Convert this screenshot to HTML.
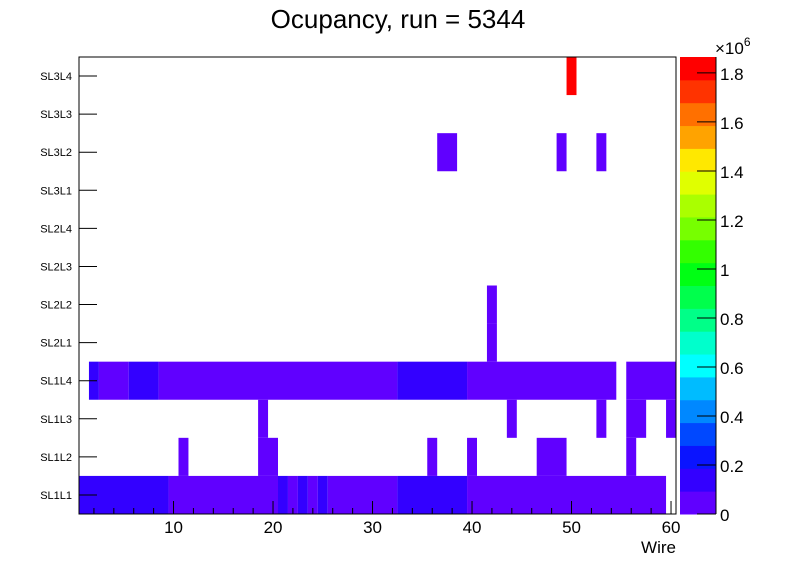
<!DOCTYPE html>
<html><head><meta charset="utf-8"><style>
body{margin:0;background:#fff;}
svg{display:block;font-family:"Liberation Sans",sans-serif;}
</style></head><body>
<svg id="chart" width="796" height="572" xmlns="http://www.w3.org/2000/svg">
<text x="398" y="28" font-size="26" text-anchor="middle">Ocupancy, run = 5344</text>
<text x="676" y="553" font-size="17" text-anchor="end">Wire</text>
<g id="cells"></g><g id="axes"></g><g id="palette"></g>
</svg>
<script>
const rowLabels = ["SL1L1","SL1L2","SL1L3","SL1L4","SL2L1","SL2L2","SL2L3","SL2L4","SL3L1","SL3L2","SL3L3","SL3L4"];
const xTicks = [10,20,30,40,50,60];
const zTicks = [0,0.2,0.4,0.6,0.8,1,1.2,1.4,1.6,1.8];
// cells: [wireStart, wireEnd, rowIndex, value(×1e6)]
const cellRuns = [
 [1,9,0,0.15],[10,20,0,0.05],[21,21,0,0.15],[22,22,0,0.05],[23,23,0,0.15],[24,24,0,0.05],[25,25,0,0.15],[26,32,0,0.05],[33,39,0,0.15],[40,59,0,0.05],
 [11,11,1,0.05],[19,20,1,0.05],[36,36,1,0.05],[40,40,1,0.05],[47,49,1,0.05],[56,56,1,0.05],
 [19,19,2,0.05],[44,44,2,0.05],[53,53,2,0.05],[56,57,2,0.05],[60,60,2,0.05],
 [2,2,3,0.15],[3,5,3,0.05],[6,8,3,0.15],[9,32,3,0.05],[33,39,3,0.15],[40,54,3,0.05],[56,60,3,0.05],
 [42,42,4,0.05],[42,42,5,0.05],
 [37,38,9,0.05],[49,49,9,0.05],[53,53,9,0.05],
 [50,50,11,1.85]
];
const palette = ["#6000ff","#3300ff","#0a14ff","#0048ff","#0088ff","#00bcff","#00ffff","#00ffcc","#00ff88","#00ff4c","#00ff14","#33ff00","#77ff00","#aaff00","#e0ff00","#ffe800","#ffa300","#ff7000","#ff3300","#ff0000"];
const X0=79,X1=676,Y0=57,Y1=514,ZMAX=1.865;
const NS="http://www.w3.org/2000/svg";
const sx=w=>X0+(w-0.5)*(X1-X0)/60;
const sy=r=>Y1-r*(Y1-Y0)/rowLabels.length;
const sz=v=>Y1-v/ZMAX*(Y1-Y0);
function mk(t,a,p){const e=document.createElementNS(NS,t);for(const k in a)e.setAttribute(k,a[k]);p.appendChild(e);return e;}
const cells=document.getElementById('cells'),axes=document.getElementById('axes'),pal=document.getElementById('palette');
const colorOf=v=>palette[Math.min(palette.length-1,Math.floor(v/ZMAX*palette.length))];
cellRuns.forEach(c=>{
 const x=sx(c[0]-0.5),x2=Math.min(X1,sx(c[1]+0.5));
 const r=mk('rect',{x:x,y:sy(c[2]+1),width:x2-x,height:sy(c[2])-sy(c[2]+1),fill:colorOf(c[3])},cells);
 
 
});
const fr=mk('rect',{x:X0,y:Y0,width:X1-X0,height:Y1-Y0,fill:'none',stroke:'#000','stroke-width':1},axes);


rowLabels.forEach((l,i)=>{
 const y=(sy(i)+sy(i+1))/2;
 mk('line',{x1:X0,x2:X0+18,y1:y,y2:y,stroke:'#000'},axes);
 const t=mk('text',{x:72,y:y+4,'font-size':11,'text-anchor':'end'},axes);t.textContent=l;
 
 
});
for(let w=2;w<=60;w+=2){const x=sx(w);const L=(w%10===0)?13:6;mk('line',{x1:x,x2:x,y1:Y1,y2:Y1-L,stroke:'#000'},axes);}
xTicks.forEach(w=>{const t=mk('text',{x:sx(w),y:533,'font-size':17,'text-anchor':'middle'},axes);t.textContent=w;
 
 });
palette.forEach((c,i)=>{const h=(Y1-Y0)/palette.length;const r=mk('rect',{x:680,y:Y1-(i+1)*h,width:36,height:h+0.5,fill:c},pal);
 
 });
mk('line',{x1:716,x2:716,y1:Y0,y2:Y1,stroke:'#000'},pal);
zTicks.forEach(v=>{const y=sz(v);mk('line',{x1:697,x2:716,y1:y,y2:y,stroke:'#000'},pal);
 const t=mk('text',{x:720,y:y+7,'font-size':17},pal);t.textContent=v;
 
 });
const e=mk('text',{x:715,y:54,'font-size':17},pal);e.innerHTML='×10<tspan font-size="12" dy="-8">6</tspan>';


</script>
</body></html>
